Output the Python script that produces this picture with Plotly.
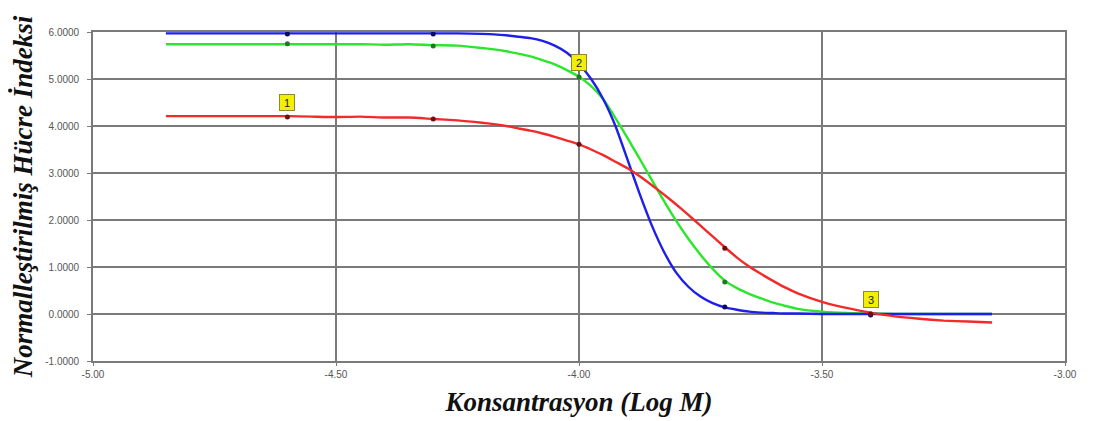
import plotly.graph_objects as go

# Fitted-curve sample positions (log M) and values
curve_x = [-4.85, -4.80, -4.75, -4.70, -4.65, -4.60, -4.55, -4.50, -4.45, -4.40,
           -4.35, -4.30, -4.25, -4.20, -4.175, -4.15, -4.125, -4.10, -4.075, -4.05,
           -4.025, -4.00, -3.975, -3.95, -3.925, -3.90, -3.875, -3.85, -3.825, -3.80,
           -3.775, -3.75, -3.725, -3.70, -3.675, -3.65, -3.625, -3.60, -3.575, -3.55,
           -3.50, -3.45, -3.40, -3.35, -3.30, -3.25, -3.20, -3.15]

red_curve = [4.21, 4.21, 4.21, 4.21, 4.21, 4.21, 4.20, 4.19, 4.20, 4.18,
             4.18, 4.15, 4.12, 4.07, 4.04, 4.00, 3.95, 3.90, 3.84, 3.77,
             3.69, 3.61, 3.50, 3.38, 3.24, 3.10, 2.93, 2.74, 2.54, 2.33,
             2.11, 1.88, 1.65, 1.42, 1.20, 1.01, 0.85, 0.70, 0.56, 0.44,
             0.26, 0.13, 0.03, -0.05, -0.10, -0.14, -0.16, -0.18]

green_curve = [5.74, 5.74, 5.74, 5.74, 5.74, 5.74, 5.74, 5.74, 5.74, 5.73,
               5.74, 5.72, 5.71, 5.66, 5.63, 5.59, 5.54, 5.48, 5.40, 5.31,
               5.19, 5.05, 4.85, 4.57, 4.17, 3.74, 3.30, 2.85, 2.40, 1.98,
               1.60, 1.26, 0.96, 0.71, 0.55, 0.43, 0.33, 0.24, 0.17, 0.11,
               0.05, 0.02, 0.01, 0.00, 0.00, 0.00, 0.00, 0.00]

blue_curve = [5.97, 5.97, 5.97, 5.97, 5.97, 5.97, 5.97, 5.97, 5.97, 5.97,
              5.97, 5.97, 5.97, 5.96, 5.95, 5.93, 5.90, 5.87, 5.81, 5.71,
              5.56, 5.32, 5.00, 4.57, 4.00, 3.28, 2.55, 1.88, 1.32, 0.88,
              0.58, 0.37, 0.23, 0.14, 0.09, 0.05, 0.03, 0.02, 0.01, 0.01,
              0.00, 0.00, 0.00, 0.00, 0.00, 0.00, 0.00, 0.00]

# Measured points
point_x = [-4.60, -4.30, -4.00, -3.70, -3.40]
red_points = [4.19, 4.15, 3.61, 1.40, 0.00]
green_points = [5.75, 5.70, 5.04, 0.68, 0.00]
blue_points = [5.96, 5.96, 5.30, 0.15, -0.02]

# Numbered labels: (x, y of the point they sit on, text)
label_x = [-4.60, -4.00, -3.40]
label_y = [4.19, 5.04, -0.02]
label_text = ["1", "2", "3"]

x_ticks = [-5.00, -4.50, -4.00, -3.50, -3.00]
y_ticks = [-1, 0, 1, 2, 3, 4, 5, 6]

fig = go.Figure()

series = [
    (green_curve, green_points, "#2BE62B", "#1E7A1E", "Green"),
    (blue_curve, blue_points, "#1E1EEB", "#0A0A60", "Blue"),
    (red_curve, red_points, "#F22A2A", "#6A1010", "Red"),
]
for curve, pts, lc, mc, name in series:
    fig.add_trace(go.Scatter(x=curve_x, y=curve, mode="lines", name=name,
                             line=dict(color=lc, width=2.4, shape="spline", smoothing=0.5),
                             showlegend=False, hoverinfo="skip"))
for curve, pts, lc, mc, name in series:
    fig.add_trace(go.Scatter(x=point_x, y=pts, mode="markers", name=name + " points",
                             marker=dict(color=mc, size=5, symbol="circle"),
                             showlegend=False))

for lx, ly, lt in zip(label_x, label_y, label_text):
    fig.add_annotation(x=lx, y=ly, text=lt, showarrow=False, yshift=15,
                       font=dict(family="Liberation Sans, Arial", size=11, color="#222"),
                       bgcolor="#F2F000", bordercolor="#8A8A30", borderwidth=1,
                       borderpad=1, width=12, height=13)

title_font = dict(family="Liberation Serif, Times New Roman, serif", size=27,
                  color="#111", weight="bold", style="italic")
tick_font = dict(family="Liberation Sans, Arial, sans-serif", size=10, color="#555")

# The page body has an 8px default margin, so the figure is sized to fit the window
fig.update_layout(
    width=1085, height=413,
    margin=dict(l=85, r=28, t=24, b=60),
    paper_bgcolor="white", plot_bgcolor="white",
    xaxis=dict(range=[-5.0, -3.0], tickvals=x_ticks,
               ticktext=[f"{v:.2f}" for v in x_ticks],
               showgrid=True, gridcolor="#7A7A7A", gridwidth=1.6,
               zeroline=False, showline=True, linecolor="#7A7A7A", linewidth=1.6,
               mirror=True, ticks="outside", ticklen=3, tickcolor="#7A7A7A",
               tickfont=tick_font, automargin=False,
               title=dict(text="Konsantrasyon (Log M)", font=title_font, standoff=13)),
    yaxis=dict(range=[-1.0, 6.0], tickvals=y_ticks,
               ticktext=[f"{v:.4f}" for v in y_ticks],
               showgrid=True, gridcolor="#7A7A7A", gridwidth=1.6,
               zeroline=False, showline=True, linecolor="#7A7A7A", linewidth=1.6,
               mirror=True, ticks="outside", ticklen=4, tickcolor="#7A7A7A",
               tickfont=tick_font, automargin=False, ticklabelstandoff=6,
               title=dict(text="Normalleştirilmiş Hücre İndeksi", font=title_font, standoff=9)),
)

fig.write_html("out.html")
